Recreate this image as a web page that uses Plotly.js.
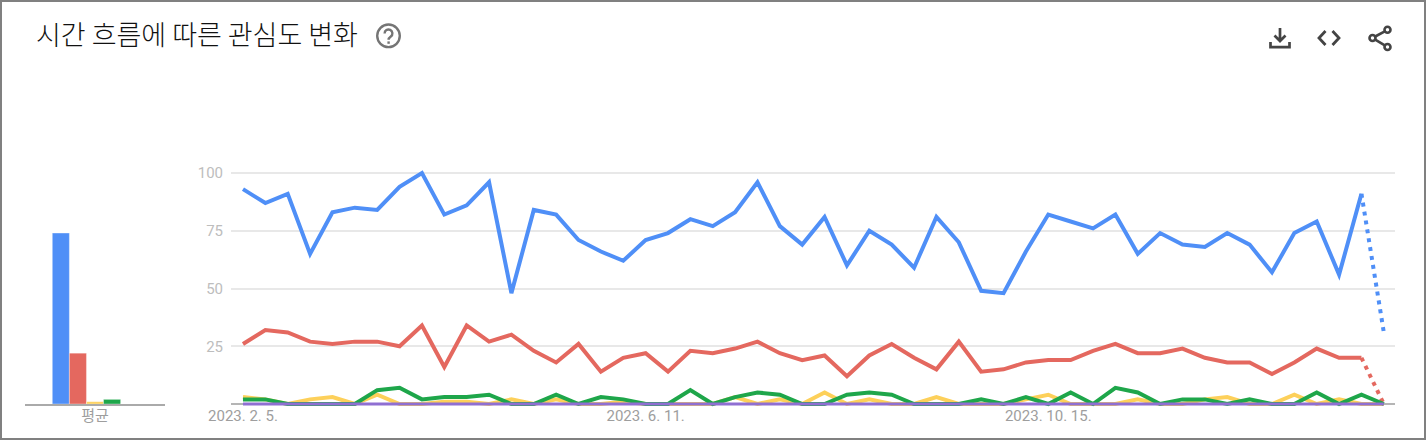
<!DOCTYPE html>
<html><head><meta charset="utf-8">
<script src="https://cdn.plot.ly/plotly-3.0.1.min.js"></script>
<style>
html,body{margin:0;padding:0;background:#fff;overflow:hidden}
#chart{position:absolute;left:0;top:0;width:1426px;height:440px}
#frame{position:absolute;left:0;top:0;width:1426px;height:440px;box-sizing:border-box;border:2px solid #808080;pointer-events:none}
.ic{position:absolute;pointer-events:none}
.scatterlayer .js-line{stroke-linejoin:miter !important;stroke-miterlimit:4 !important}
</style></head><body>
<div id="chart"></div>
<div id="frame"></div>
<svg class="ic" style="left:375px;top:23px" width="27" height="27" viewBox="0 0 27 27"><circle cx="13.5" cy="12.8" r="11.3" fill="none" stroke="#757575" stroke-width="2.4"/><path d="M9.6 10.4a3.9 3.9 0 1 1 6.2 3.1c-1.4 1-2.2 1.6-2.2 3.3" fill="none" stroke="#757575" stroke-width="2.4"/><rect x="12.4" y="18.4" width="2.4" height="2.4" fill="#757575"/></svg>
<svg class="ic" style="left:1266px;top:24px" width="28" height="28" viewBox="0 0 28 28"><path d="M14 4v13M8.5 11.5 14 17l5.5-5.5M4.5 18v5.2h19V18" fill="none" stroke="#444" stroke-width="2.7"/></svg>
<svg class="ic" style="left:1315px;top:26px" width="28" height="24" viewBox="0 0 28 24"><path d="M10.5 5 4 12l6.5 7M17.5 5 24 12l-6.5 7" fill="none" stroke="#444" stroke-width="2.8"/></svg>
<svg class="ic" style="left:1366px;top:24px" width="28" height="28" viewBox="0 0 28 28"><g fill="none" stroke="#444" stroke-width="2.6"><circle cx="21.5" cy="5.8" r="3"/><circle cx="6.5" cy="14" r="3"/><circle cx="21.5" cy="23" r="3"/><path d="M9.2 12.5 18.8 7.3M9.2 15.6 18.8 21.4"/></g></svg>
<script>
var dates = ["2023-02-05","2023-02-12","2023-02-19","2023-02-26","2023-03-05","2023-03-12","2023-03-19","2023-03-26","2023-04-02","2023-04-09","2023-04-16","2023-04-23","2023-04-30","2023-05-07","2023-05-14","2023-05-21","2023-05-28","2023-06-04","2023-06-11","2023-06-18","2023-06-25","2023-07-02","2023-07-09","2023-07-16","2023-07-23","2023-07-30","2023-08-06","2023-08-13","2023-08-20","2023-08-27","2023-09-03","2023-09-10","2023-09-17","2023-09-24","2023-10-01","2023-10-08","2023-10-15","2023-10-22","2023-10-29","2023-11-05","2023-11-12","2023-11-19","2023-11-26","2023-12-03","2023-12-10","2023-12-17","2023-12-24","2023-12-31","2024-01-07","2024-01-14","2024-01-21","2024-01-28"];
var blue = [93,87,91,65,83,85,84,94,100,82,86,96,48,84,82,71,66,62,71,74,80,77,83,96,77,69,81,60,75,69,59,81,70,49,48,66,82,79,76,82,65,74,69,68,74,69,57,74,79,56,91,31];
var red = [26,32,31,27,26,27,27,25,34,16,34,27,30,23,18,26,14,20,22,14,23,22,24,27,22,19,21,12,21,26,20,15,27,14,15,18,19,19,23,26,22,22,24,20,18,18,13,18,24,20,20,0];
var yellow = [3,2,0,2,3,0,4,0,0,1,1,0,2,0,2,0,0,1,0,0,0,0,3,0,2,0,5,0,2,0,0,3,0,0,0,2,4,0,0,0,2,0,0,2,3,0,0,4,0,2,0,0];
var green = [2,2,0,0,0,0,6,7,2,3,3,4,0,0,4,0,3,2,0,0,6,0,3,5,4,0,0,4,5,4,0,0,0,2,0,3,0,5,0,7,5,0,2,2,0,2,0,0,5,0,4,0];
var purple = [0,0,0,0,0,0,0,0,0,0,0,0,0,0,0,0,0,0,0,0,0,0,0,0,0,0,0,0,0,0,0,0,0,0,0,0,0,0,0,0,0,0,0,0,0,0,0,0,0,0,0,0];
var seriesNames = ["파랑","빨강","노랑","초록","보라"];
var seriesColors = ["#4f8ff7","#e4685f","#fdd05a","#1ea64a","#8f6fd2"];
var seriesDotted = [true,true,false,false,false];
var seriesValues = [blue,red,yellow,green,purple];
var averages = [74,22,1,2,0];
var averageLabel = "평균";
var xTickDates = ["2023-02-05","2023-06-11","2023-10-15"];
var xTickLabels = ["2023. 2. 5.","2023. 6. 11.","2023. 10. 15."];
var yTicks = [0,25,50,75,100];
var yTickLabels = ["","25","50","75","100"];
var titleText = "시간 흐름에 따른 관심도 변화";
var W = 1426, H = 440;
var traces = [];
seriesValues.forEach(function(v,i){
  traces.push({type:"bar",x:[averageLabel],y:[averages[i]],name:seriesNames[i],xaxis:"x",yaxis:"y",
    marker:{color:seriesColors[i],line:{color:"rgba(255,255,255,0.35)",width:1}},showlegend:false,hoverinfo:"skip"});
});
seriesValues.forEach(function(v,i){
  var last = v.length-1, w = i===4?3:4;
  if(seriesDotted[i]){
    traces.push({type:"scatter",mode:"lines",x:dates.slice(0,last),y:v.slice(0,last),xaxis:"x2",yaxis:"y2",
      line:{color:seriesColors[i],width:w,simplify:false},showlegend:false,name:seriesNames[i]});
    traces.push({type:"scatter",mode:"lines",x:dates.slice(last-1),y:v.slice(last-1),xaxis:"x2",yaxis:"y2",
      line:{color:seriesColors[i],width:w,dash:"4px,5px",simplify:false},showlegend:false,name:seriesNames[i]});
  } else {
    traces.push({type:"scatter",mode:"lines",x:dates,y:v,xaxis:"x2",yaxis:"y2",
      line:{color:seriesColors[i],width:w,simplify:false},showlegend:false,name:seriesNames[i]});
  }
});
var yB = 404, yT = 173, pad = 5, unit = (yB-yT)/100;
function fx(p){return p/W;} function fy(p){return 1-p/H;}
var layout = {
  width:W,height:H,margin:{l:0,r:0,t:0,b:0},paper_bgcolor:"#fff",plot_bgcolor:"#fff",
  font:{family:"Roboto, 'Noto Sans CJK KR', sans-serif"},
  title:{text:titleText,x:fx(36),xanchor:"left",xref:"paper",y:fy(36),yref:"container",yanchor:"middle",
    font:{family:"'Noto Sans CJK KR', sans-serif",size:27,weight:300,color:"#111111"}},
  barmode:"group",bargap:0.39,bargroupgap:0,
  xaxis:{domain:[fx(25),fx(165)],type:"category",anchor:"y",layer:"below traces",tickfont:{family:"'Noto Sans CJK KR', sans-serif",size:15,color:"#9e9e9e"},
    showline:true,linecolor:"#aaaaaa",linewidth:1.5,showgrid:false,zeroline:false,ticks:"",ticklen:0,ticklabelstandoff:-3,fixedrange:true},
  yaxis:{domain:[fy(yB),fy(yT)],range:[0,100],anchor:"x",visible:false,fixedrange:true},
  xaxis2:{domain:[fx(231),fx(1395)],type:"date",anchor:"y2",layer:"below traces",
    range:["2023-02-01 06:00","2024-01-31 12:00"],
    tickmode:"array",tickvals:xTickDates,ticktext:xTickLabels,
    tickfont:{family:"Roboto, sans-serif",size:15,color:"#9e9e9e"},showgrid:false,zeroline:false,showline:false,ticks:"",ticklabelstandoff:-4,fixedrange:true},
  yaxis2:{domain:[fy(yB+pad),fy(yT-pad)],range:[-pad/unit,100+pad/unit],anchor:"x2",layer:"below traces",
    tickmode:"array",tickvals:yTicks,ticktext:yTickLabels,
    tickfont:{family:"Roboto, sans-serif",size:15,color:"#bdbdbd"},gridcolor:"#e8e8e8",gridwidth:2,
    zeroline:true,zerolinecolor:"#b5b5b5",zerolinewidth:2,showline:false,ticks:"",ticklabelstandoff:7,fixedrange:true},
  showlegend:false
};
Plotly.newPlot("chart",traces,layout,{displayModeBar:false,staticPlot:true});
</script>
</body></html>
